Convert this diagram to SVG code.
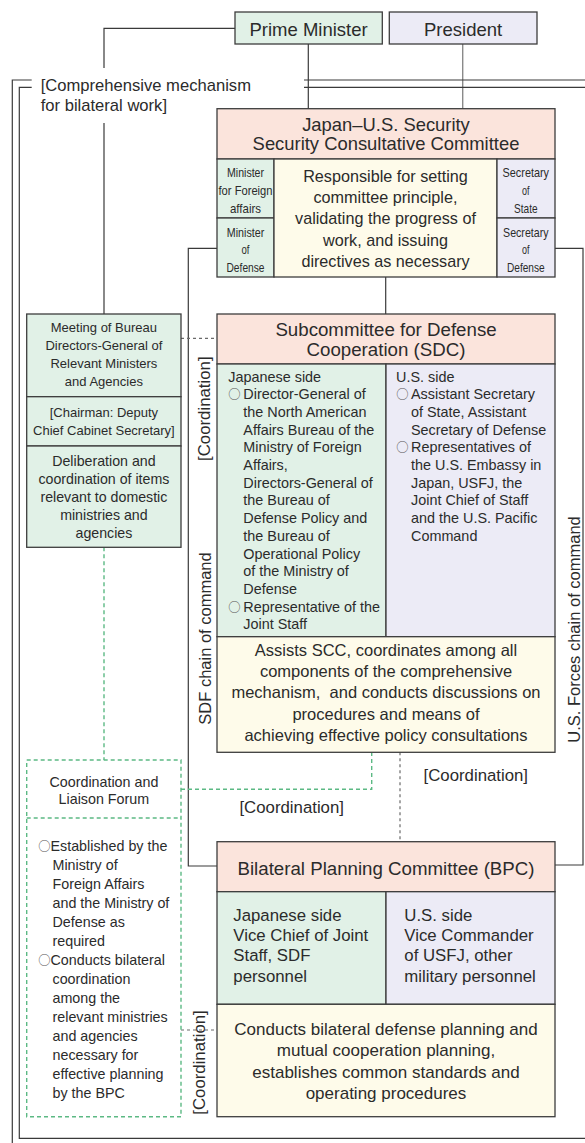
<svg xmlns="http://www.w3.org/2000/svg" width="585" height="1143" viewBox="0 0 585 1143">
<style>
text{font-family:'Liberation Sans','DejaVu Sans',sans-serif;fill:#2b2b2b}
.c{text-anchor:middle}
.o{font-family:'Noto Sans CJK JP','DejaVu Sans',sans-serif;fill:#555;font-size:12.3px}
.box{stroke:#3d3d3d;stroke-width:1.3}
.pink{fill:#fbe4dc}
.green{fill:#e1f1e7}
.lav{fill:#ecebf6}
.cream{fill:#fefbea}
.ln{stroke:#3a3a3a;stroke-width:1.2;fill:none}
.gl{stroke:#8a8a8a;stroke-width:1.4;fill:none}
.gd{stroke:#5cb984;stroke-width:1.4;stroke-dasharray:4 3;fill:none}
.dt{stroke:#6a6a6a;stroke-width:1.2;stroke-dasharray:3 3;fill:none}
.f19{font-size:18.7px}
.f17{font-size:16.8px}
.f165{font-size:16.5px}
.f16{font-size:16.2px}
.f14{font-size:14.4px}
.f143{font-size:14.3px}
.f13{font-size:13px}
.sm{font-size:13px}
</style>
<rect width="585" height="1143" fill="#ffffff"/>
<g id="connectors">
<path class="ln" d="M235,28.3 H104 V68"/>
<path class="ln" d="M104,123 V314"/>
<path class="ln" d="M308.3,44 V108.7"/>
<path class="gl" d="M462.7,44 V108.7"/>
<path class="ln" d="M31.7,80 H12.3 V1143"/>
<path class="ln" d="M304,80 H585"/>
<path class="ln" d="M31.7,87.3 H19.3 V1138.3 H585"/>
<path class="ln" d="M304,87.3 H585"/>
<path class="ln" d="M217,248.3 H188.3 V866 H217"/>
<path class="ln" d="M555,248.3 H583 V865 H555"/>
<path class="ln" d="M385.7,277 V314"/>
<path class="dt" d="M181,338.3 H217"/>
<path class="gd" d="M104,547.3 V760"/>
<path class="gd" d="M181,789.3 H371.7 V752.3"/>
<path class="dt" d="M400,752.3 V841.7"/>
<path class="dt" d="M181,1030 H217"/>
</g>
<g id="labels">
<text x="40.7" y="90.7" style="font-size:16.6px">[Comprehensive mechanism</text>
<text x="40.7" y="111" style="font-size:16.6px">for bilateral work]</text>
<text class="c f17" transform="translate(210 408.7) rotate(-90)">[Coordination]</text>
<text class="c f165" transform="translate(211 638.5) rotate(-90)">SDF chain of command</text>
<text class="c f165" transform="translate(580 629.5) rotate(-90)">U.S. Forces chain of command</text>
<text class="c f17" transform="translate(205 1062.5) rotate(-90)">[Coordination]</text>
<text class="c f17" x="475.8" y="780.5">[Coordination]</text>
<text class="c f17" x="291.7" y="813">[Coordination]</text>
</g>
<g id="prime-minister">
<rect class="box green" x="235" y="12" width="147.3" height="32"/>
<text class="c" x="308.6" y="35.7" style="font-size:18.5px">Prime Minister</text>
</g>
<g id="president">
<rect class="box lav" x="389.3" y="12" width="147.7" height="32"/>
<text class="c" x="463.1" y="35.7" style="font-size:18.5px">President</text>
</g>
<g id="scc">
<rect class="box pink" x="217" y="108.7" width="338" height="50.3"/>
<rect class="box green" x="217" y="159" width="57" height="59"/>
<rect class="box green" x="217" y="218" width="57" height="59"/>
<rect class="box cream" x="274" y="159" width="223" height="118"/>
<rect class="box lav" x="497" y="159" width="58" height="59"/>
<rect class="box lav" x="497" y="218" width="58" height="59"/>
<text class="c" x="386" y="130.8" style="font-size:18.4px">Japan–U.S. Security</text>
<text class="c" x="386" y="150.2" style="font-size:18.4px">Security Consultative Committee</text>
<g class="sm">
<text class="c" x="245.5" y="176.5" textLength="37" lengthAdjust="spacingAndGlyphs">Minister</text>
<text class="c" x="245.5" y="195" textLength="54" lengthAdjust="spacingAndGlyphs">for Foreign</text>
<text class="c" x="245.5" y="212.7" textLength="31" lengthAdjust="spacingAndGlyphs">affairs</text>
<text class="c" x="245.5" y="236.5" textLength="37.5" lengthAdjust="spacingAndGlyphs">Minister</text>
<text class="c" x="245.5" y="254" textLength="8" lengthAdjust="spacingAndGlyphs">of</text>
<text class="c" x="245.5" y="271.5" textLength="38" lengthAdjust="spacingAndGlyphs">Defense</text>
<text class="c" x="525.8" y="176.5" textLength="46.5" lengthAdjust="spacingAndGlyphs">Secretary</text>
<text class="c" x="525.8" y="195" textLength="7.5" lengthAdjust="spacingAndGlyphs">of</text>
<text class="c" x="525.8" y="212.7" textLength="23.5" lengthAdjust="spacingAndGlyphs">State</text>
<text class="c" x="525.8" y="236.5" textLength="45.5" lengthAdjust="spacingAndGlyphs">Secretary</text>
<text class="c" x="525.8" y="254" textLength="7.5" lengthAdjust="spacingAndGlyphs">of</text>
<text class="c" x="525.8" y="271.5" textLength="37.7" lengthAdjust="spacingAndGlyphs">Defense</text>
</g>
<g class="f16">
<text class="c" x="385.5" y="181.7">Responsible for setting</text>
<text class="c" x="385.5" y="203">committee principle,</text>
<text class="c" x="385.5" y="224.2">validating the progress of</text>
<text class="c" x="385.5" y="245.5">work, and issuing</text>
<text class="c" x="385.5" y="266.7">directives as necessary</text>
</g>
</g>
<g id="meeting">
<rect class="box green" x="26.7" y="314" width="154.3" height="82.7"/>
<rect class="box green" x="26.7" y="396.7" width="154.3" height="49.3"/>
<rect class="box green" x="26.7" y="446" width="154.3" height="101.3"/>
<g class="f13">
<text class="c" x="103.9" y="332.3">Meeting of Bureau</text>
<text class="c" x="103.9" y="350">Directors-General of</text>
<text class="c" x="103.9" y="367.7">Relevant Ministers</text>
<text class="c" x="103.9" y="385.7">and Agencies</text>
<text class="c" x="103.9" y="417.3">[Chairman: Deputy</text>
<text class="c" x="103.9" y="435">Chief Cabinet Secretary]</text>
</g>
<g style="font-size:14.2px">
<text class="c" x="103.9" y="465.7">Deliberation and</text>
<text class="c" x="103.9" y="484">coordination of items</text>
<text class="c" x="103.9" y="502.3">relevant to domestic</text>
<text class="c" x="103.9" y="520">ministries and</text>
<text class="c" x="103.9" y="537.5">agencies</text>
</g>
</g>
<g id="sdc">
<rect class="box pink" x="217" y="314" width="338" height="50"/>
<rect class="box green" x="217" y="364" width="169" height="272.7"/>
<rect class="box lav" x="386" y="364" width="169" height="272.7"/>
<rect class="box cream" x="217" y="636.7" width="338" height="115.6"/>
<text class="c f19" x="386" y="336">Subcommittee for Defense</text>
<text class="c f19" x="386" y="356">Cooperation (SDC)</text>
<g class="f14">
<text x="228.3" y="381.5">Japanese side</text>
<text y="399.2"><tspan class="o" x="228.3">○</tspan><tspan x="243.3">Director-General of</tspan></text>
<text x="243.3" y="416.9">the North American</text>
<text x="243.3" y="434.6">Affairs Bureau of the</text>
<text x="243.3" y="452.3">Ministry of Foreign</text>
<text x="243.3" y="470">Affairs,</text>
<text x="243.3" y="487.7">Directors-General of</text>
<text x="243.3" y="505.4">the Bureau of</text>
<text x="243.3" y="523.1">Defense Policy and</text>
<text x="243.3" y="540.8">the Bureau of</text>
<text x="243.3" y="558.5">Operational Policy</text>
<text x="243.3" y="576.2">of the Ministry of</text>
<text x="243.3" y="593.9">Defense</text>
<text y="611.6"><tspan class="o" x="228.3">○</tspan><tspan x="243.3">Representative of the</tspan></text>
<text x="243.3" y="629.3">Joint Staff</text>
<text x="396" y="381.5">U.S. side</text>
<text y="399.2"><tspan class="o" x="396.2">○</tspan><tspan x="411">Assistant Secretary</tspan></text>
<text x="411" y="416.9">of State, Assistant</text>
<text x="411" y="434.6">Secretary of Defense</text>
<text y="452.3"><tspan class="o" x="396.2">○</tspan><tspan x="411">Representatives of</tspan></text>
<text x="411" y="470">the U.S. Embassy in</text>
<text x="411" y="487.7">Japan, USFJ, the</text>
<text x="411" y="505.4">Joint Chief of Staff</text>
<text x="411" y="523.1">and the U.S. Pacific</text>
<text x="411" y="540.8">Command</text>
</g>
<g class="f165">
<text class="c" x="386" y="656">Assists SCC, coordinates among all</text>
<text class="c" x="386" y="677.2">components of the comprehensive</text>
<text class="c" x="386" y="698.4" xml:space="preserve">mechanism,  and conducts discussions on</text>
<text class="c" x="386" y="719.6">procedures and means of</text>
<text class="c" x="386" y="740.8">achieving effective policy consultations</text>
</g>
</g>
<g id="forum">
<rect class="gd" x="26.7" y="760" width="154.3" height="356.7"/>
<path class="gd" d="M26.7,818 H181"/>
<g class="f143">
<text class="c" x="103.9" y="786.5">Coordination and</text>
<text class="c" x="103.9" y="804">Liaison Forum</text>
<text y="850.7"><tspan class="o" x="38.3">○</tspan><tspan x="50.5">Established by the</tspan></text>
<text x="52.5" y="869.8">Ministry of</text>
<text x="52.5" y="888.8">Foreign Affairs</text>
<text x="52.5" y="907.9">and the Ministry of</text>
<text x="52.5" y="926.9">Defense as</text>
<text x="52.5" y="946">required</text>
<text y="965"><tspan class="o" x="38.3">○</tspan><tspan x="50.5">Conducts bilateral</tspan></text>
<text x="52.5" y="984.1">coordination</text>
<text x="52.5" y="1003.1">among the</text>
<text x="52.5" y="1022.2">relevant ministries</text>
<text x="52.5" y="1041.2">and agencies</text>
<text x="52.5" y="1060.3">necessary for</text>
<text x="52.5" y="1079.3">effective planning</text>
<text x="52.5" y="1098.4">by the BPC</text>
</g>
</g>
<g id="bpc">
<rect class="box pink" x="217" y="841.7" width="338" height="50"/>
<rect class="box green" x="217" y="891.7" width="169" height="112.6"/>
<rect class="box lav" x="386" y="891.7" width="169" height="112.6"/>
<rect class="box cream" x="217" y="1004.3" width="338" height="112.4"/>
<text class="c f19" x="386" y="875">Bilateral Planning Committee (BPC)</text>
<g class="f17">
<text x="233.3" y="920.5">Japanese side</text>
<text x="233.3" y="941">Vice Chief of Joint</text>
<text x="233.3" y="961.3">Staff, SDF</text>
<text x="233.3" y="981.7">personnel</text>
<text x="404.3" y="920.5">U.S. side</text>
<text x="404.3" y="941">Vice Commander</text>
<text x="404.3" y="961.3">of USFJ, other</text>
<text x="404.3" y="981.7">military personnel</text>
</g>
<g style="font-size:17px">
<text class="c" x="386" y="1035">Conducts bilateral defense planning and</text>
<text class="c" x="386" y="1056.3">mutual cooperation planning,</text>
<text class="c" x="386" y="1077.6">establishes common standards and</text>
<text class="c" x="386" y="1098.9">operating procedures</text>
</g>
</g>
</svg>
